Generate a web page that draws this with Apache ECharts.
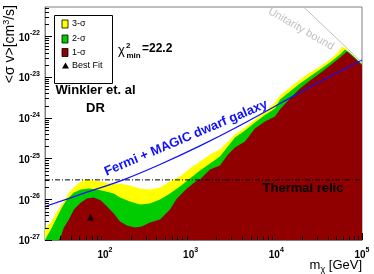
<!DOCTYPE html>
<html><head><meta charset="utf-8">
<script src="https://cdn.jsdelivr.net/npm/echarts@6/dist/echarts.min.js"></script>
<style>html,body{margin:0;padding:0;background:#fff}#c{width:374px;height:274px}</style>
</head><body><div id="c"></div>
<script>
// ---- data (mass in GeV, <sigma v> in cm^3/s) ----
const X_MIN = 20, X_MAX = 1e5, Y_MIN = 1e-27, Y_MAX = 5.3e-22;
const xTickExponents = [2, 3, 4, 5];
const yTickExponents = [-27, -26, -25, -24, -23, -22];

const sigma3 = [[20,1.92e-27],[23.4,2.69e-27],[27.5,5.0e-27],[33.2,8.83e-27],[38,1.47e-26],[45.9,2.18e-26],
 [52.5,2.74e-26],[60,3.06e-26],[74.4,2.90e-26],[89.8,2.74e-26],[114,2.44e-26],[150,2.44e-26],[196,2.18e-26],
 [256,1.84e-26],[335,1.74e-26],[439,1.95e-26],[574,2.74e-26],[751,3.63e-26],[982,5.71e-26],[1285,8.49e-26],
 [1682,1.26e-25],[2200,1.67e-25],[3293,3.91e-25],[4308,5.81e-25],[5635,9.14e-25],[7373,1.44e-24],[9646,2.39e-24],
 [11030,3.55e-24],[14430,5.58e-24],[18890,8.77e-24],[24710,1.30e-23],[32320,1.83e-23],[42290,2.72e-23],
 [52430,4.05e-23],[58400,5.68e-23],[65000,5.0e-23],[80000,3.3e-23],[100000,2.1e-23]];

const sigma2 = [[20,1e-27],[21,1.22e-27],[24.1,2.03e-27],[27.5,3.57e-27],[31.5,6.29e-27],[36,9.89e-27],
 [43.5,1.47e-26],[52.5,1.74e-26],[65.1,1.84e-26],[80.6,1.74e-26],[103,1.56e-26],[127,1.39e-26],[150,1.11e-26],
 [196,8.83e-27],[256,7.45e-27],[335,7.88e-27],[439,9.89e-27],[574,1.39e-26],[751,2.06e-26],[982,3.24e-26],
 [1285,5.1e-26],[1682,7.59e-26],[2200,1.13e-25],[3293,3.30e-25],[4308,4.9e-25],[5635,7.7e-25],[7373,1.18e-24],
 [9646,1.70e-24],[11030,2.83e-24],[14430,4.46e-24],[18890,7.0e-24],[24710,1.04e-23],[32320,1.55e-23],
 [42290,2.3e-23],[55330,3.61e-23],[63290,4.8e-23],[72000,4.0e-23],[100000,2.1e-23]];

const sigma1 = [[29,1e-27],[30.6,1.22e-27],[33.2,2.03e-27],[38,3.19e-27],[43.5,5.61e-27],[52.5,8.34e-27],
 [61.6,1.05e-26],[74.4,1.11e-26],[89.8,9.33e-27],[106,6.65e-27],[127,4.48e-27],[150,2.85e-27],[181,2.27e-27],
 [224,2.03e-27],[270,2.15e-27],[335,2.69e-27],[439,3.19e-27],[574,5.61e-27],[692,1.05e-26],[906,1.84e-26],
 [1186,2.9e-26],[1285,3.06e-26],[1682,5.4e-26],[2200,6.76e-26],[2728,1.26e-25],[3293,1.88e-25],[4308,2.63e-25],
 [5635,5.5e-25],[7373,8.16e-25],[9646,1.08e-24],[11030,1.61e-24],[14430,3.0e-24],[18890,5.27e-24],
 [24710,8.3e-24],[32320,1.25e-23],[42290,1.94e-23],[55330,3.05e-23],[66780,4.28e-23],[80000,3.1e-23],[100000,2.0e-23]];

const fermiMagic = [[20,6.65e-27],[58.4,1.43e-26],[167,3.06e-26],[439,7.16e-26],[1285,2.05e-25],
 [3763,6.5e-25],[11030,2.26e-24],[32320,7.83e-24],[100000,2.65e-23]];
const thermalRelic = [[20,3.0e-26],[100000,3.0e-26]];
const unitarity = [[20000,5.75e-22],[100000,2.3e-23]];
const bestFit = [[68,3.6e-27]];

const xMinorTicks = [30,40,50,60,70,80,90,200,300,400,500,600,700,800,900,2000,3000,4000,5000,6000,7000,8000,9000,
 20000,30000,40000,50000,60000,70000,80000,90000];
const yMinorTicks = [];
yTickExponents.forEach(e => { [2,3,4,5,6,7,8,9].forEach(k => { const v = k*Math.pow(10,e); if (v < Y_MAX) yMinorTicks.push(v); }); });

// ---- the library rounds tiny numbers, so the y scale is built in units of 1e-27 cm^3/s ----
const U = 1e-27;
const sc = arr => arr.map(p => [p[0], p[1] / U]);

const FF = '"Liberation Sans", Arial, Helvetica, sans-serif';
const C3 = '#ffff00', C2 = '#00cc00', C1 = '#900000', BLUE = '#1010ff';
const chart = echarts.init(document.getElementById('c'), null, {renderer:'canvas'});

function area(name, data, color) {
  return {name, type:'line', data:sc(data), symbol:'none', showSymbol:false, silent:true,
    lineStyle:{width:0, opacity:0}, areaStyle:{color, opacity:1, origin: Y_MIN / U}, z:1};
}
const expRich = {
  b:{fontSize:10, fontWeight:'bold', fontFamily:FF, color:'#000', lineHeight:13, verticalAlign:'bottom'},
  s:{fontSize:7, fontWeight:'bold', fontFamily:FF, color:'#000', lineHeight:13, verticalAlign:'top'}
};
const xFmt = v => '{b|10}{s|' + Math.round(Math.log10(v)) + '}';
const yFmt = v => '{b|10}{s|' + (Math.round(Math.log10(v)) + Math.round(Math.log10(U))) + '}';

chart.setOption({
  animation:false,
  grid:{left:45, right:12, top:7, bottom:34, show:true, borderColor:'#808080', borderWidth:1, backgroundColor:'transparent'},
  xAxis:{type:'log', logBase:10, min:X_MIN, max:X_MAX,
    axisLine:{show:true, lineStyle:{color:'#808080'}},
    axisTick:{show:true, inside:true, length:7, lineStyle:{color:'#000'}},
    splitLine:{show:false},
    axisLabel:{formatter:xFmt, rich:expRich, margin:7, showMinLabel:false, showMaxLabel:true}
  },
  yAxis:{type:'log', logBase:10, min:Y_MIN / U, max:Y_MAX / U,
    axisLine:{show:true, lineStyle:{color:'#808080'}},
    axisTick:{show:true, inside:true, length:7, lineStyle:{color:'#000'}},
    splitLine:{show:false},
    axisLabel:{formatter:yFmt, rich:expRich, margin:5, showMinLabel:true, showMaxLabel:false}
  },
  series:[
    area('3-σ', sigma3, C3),
    area('2-σ', sigma2, C2),
    area('1-σ', sigma1, C1),
    {type:'line', data:sc(thermalRelic), symbol:'none', silent:true, z:3,
      lineStyle:{color:'#000', width:1, type:[5,2,1,2]}},
    {type:'line', data:sc(fermiMagic), symbol:'none', silent:true, smooth:0.3, z:4,
      lineStyle:{color:BLUE, width:1.3}},
    {type:'line', data:sc(unitarity), symbol:'none', silent:true, z:4,
      lineStyle:{color:'#c0c0c0', width:1}},
    {type:'scatter', data:sc(bestFit), symbol:'triangle', symbolSize:7, silent:true, z:5,
      itemStyle:{color:'#000'}},
    {type:'custom', data:xMinorTicks.map(v => [v, Y_MIN / U]), silent:true, clip:false, z:6,
      renderItem:(p, api) => { const c = api.coord([api.value(0), api.value(1)]); const x = Math.round(c[0]) + 0.5;
        return {type:'line', shape:{x1:x, y1:c[1], x2:x, y2:c[1]-4}, style:{stroke:'#000', lineWidth:1}}; }},
    {type:'custom', data:yMinorTicks.map(v => [X_MIN, v / U]), silent:true, clip:false, z:6,
      renderItem:(p, api) => { const c = api.coord([api.value(0), api.value(1)]); const y = Math.round(c[1]) + 0.5;
        return {type:'line', shape:{x1:c[0], y1:y, x2:c[0]+4, y2:y}, style:{stroke:'#000', lineWidth:1}}; }}
  ],
  graphic:[
    {type:'rect', shape:{x:54.5, y:15.5, width:58, height:68}, style:{fill:'#fff', stroke:'#000', lineWidth:1}, z:10},
    {type:'rect', shape:{x:62, y:20, width:6, height:8}, style:{fill:C3, stroke:'#000', lineWidth:0.8}, z:11},
    {type:'rect', shape:{x:62, y:35, width:6, height:8}, style:{fill:C2, stroke:'#000', lineWidth:0.8}, z:11},
    {type:'rect', shape:{x:62, y:48.5, width:6, height:8}, style:{fill:C1, stroke:'#000', lineWidth:0.8}, z:11},
    {type:'polygon', shape:{points:[[65.5,62.5],[69,68.5],[62,68.5]]}, style:{fill:'#000'}, z:11},
    {type:'text', x:72, y:24, z:11, style:{text:'3-σ', font:'9px '+FF, fill:'#000', verticalAlign:'middle'}},
    {type:'text', x:72, y:39, z:11, style:{text:'2-σ', font:'9px '+FF, fill:'#000', verticalAlign:'middle'}},
    {type:'text', x:72, y:52.5, z:11, style:{text:'1-σ', font:'9px '+FF, fill:'#000', verticalAlign:'middle'}},
    {type:'text', x:72, y:66, z:11, style:{text:'Best Fit', font:'9px '+FF, fill:'#000', verticalAlign:'middle'}},
    {type:'text', x:118, y:50, z:11, style:{text:'χ', font:'13px '+FF, fill:'#000', verticalAlign:'middle'}},
    {type:'text', x:126, y:45.5, z:11, style:{text:'2', font:'bold 8px '+FF, fill:'#000', verticalAlign:'middle'}},
    {type:'text', x:126.5, y:56, z:11, style:{text:'min', font:'bold 8px '+FF, fill:'#000', verticalAlign:'middle'}},
    {type:'text', x:142, y:49, z:11, style:{text:'=22.2', font:'bold 12px '+FF, fill:'#000', verticalAlign:'middle'}},
    {type:'text', x:95.5, y:90, z:11, style:{text:'Winkler et. al', font:'bold 13px '+FF, fill:'#000', align:'center', verticalAlign:'middle'}},
    {type:'text', x:95.5, y:108, z:11, style:{text:'DR', font:'bold 13px '+FF, fill:'#000', align:'center', verticalAlign:'middle'}},
    {type:'text', x:186, y:138, rotation:23*Math.PI/180, z:11, style:{text:'Fermi + MAGIC dwarf galaxy', font:'bold 13px '+FF, fill:BLUE, align:'center', verticalAlign:'middle'}},
    {type:'text', x:301, y:29, rotation:-30*Math.PI/180, z:11, style:{text:'Unitarity bound', font:'11px '+FF, fill:'#c0c0c0', align:'center', verticalAlign:'middle'}},
    {type:'text', x:303, y:188, z:11, style:{text:'Thermal relic', font:'bold 13px '+FF, fill:'#000', align:'center', verticalAlign:'middle'}},
    {type:'text', x:10, y:5, rotation:Math.PI/2, z:11, style:{text:'<σ v>[cm{s|3}/s]', font:'14px '+FF, fill:'#000', align:'right', verticalAlign:'middle',
      rich:{s:{fontSize:9, fontFamily:FF, verticalAlign:'top', lineHeight:15}}}},
    {type:'text', x:362, y:265, z:11, style:{text:'m{s|χ} [GeV]', font:'13px '+FF, fill:'#000', align:'right', verticalAlign:'middle',
      rich:{s:{fontSize:9, fontFamily:FF, verticalAlign:'bottom', lineHeight:18}}}}
  ]
});
</script></body></html>
